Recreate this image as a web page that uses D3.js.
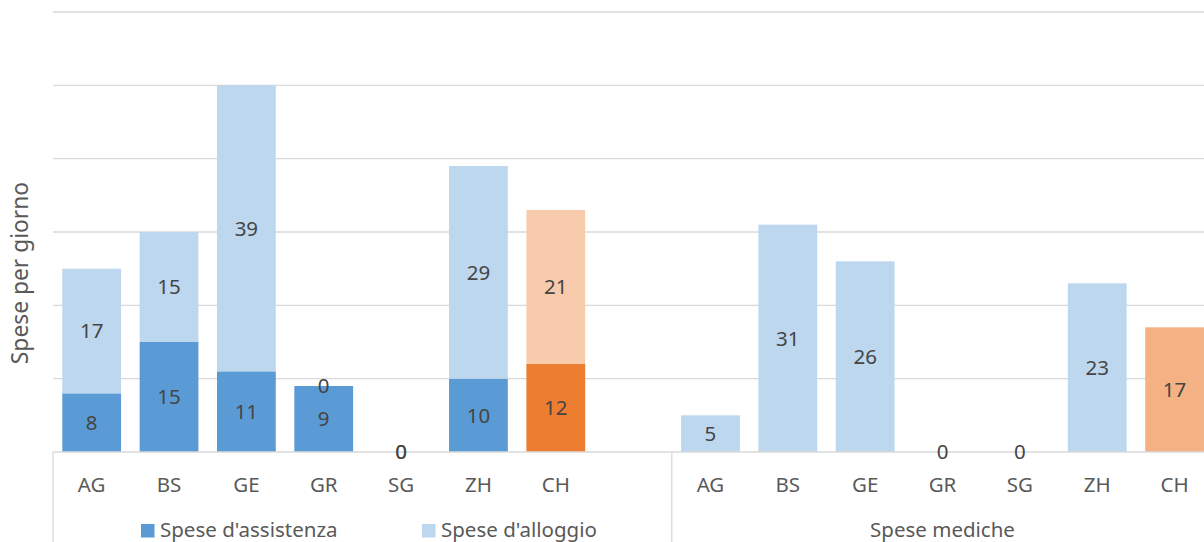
<!DOCTYPE html>
<html>
<head>
<meta charset="utf-8">
<script src="https://cdn.jsdelivr.net/npm/d3@7"></script>
<style>
  html, body { margin: 0; padding: 0; background: #fff; }
  svg { display: block; font-family: "Noto Sans", "Open Sans", sans-serif; }
</style>
</head>
<body>
<svg id="chart" width="1204" height="542"></svg>
<script>
const categories = ["AG", "BS", "GE", "GR", "SG", "ZH", "CH"];
const assistenza = [8, 15, 11, 9, 0, 10, 12];
const alloggio   = [17, 15, 39, 0, 0, 29, 21];
const mediche    = [5, 31, 26, 0, 0, 23, 17];
const yTicks = [0, 10, 20, 30, 40, 50, 60];
const seriesNames = ["Spese d'assistenza", "Spese d'alloggio"];
const groupLabel = "Spese mediche";
const yTitle = "Spese per giorno";

const svg = d3.select("#chart");
const left = 53, step = 77.35, nSlots = 15;
const baseY = 452, topY = 12;
const fontSize = 20.5;
const textCol = "#595959", labelCol = "#454545", gridCol = "#d9d9d9";

// slot keys: left group (7 cats + gap), right group (7 cats)
const slots = categories.map(c => "L-" + c).concat(["L-gap"]).concat(categories.map(c => "R-" + c));

const x = d3.scaleBand().domain(slots)
  .range([left, left + step * nSlots])
  .paddingInner(0.24).paddingOuter(0.12);
const y = d3.scaleLinear().domain([0, 60]).range([baseY, topY]);

// gridlines
svg.append("g").selectAll("line").data(yTicks.filter(t => t > 0)).join("line")
  .attr("x1", left).attr("x2", 1204)
  .attr("y1", d => y(d)).attr("y2", d => y(d))
  .attr("stroke", gridCol).attr("stroke-width", 1.3);

const isCH = c => c === "CH";
const colors = {
  assist: "#5b9bd5", assistCH: "#ed7d31",
  allog: "#bdd7ee", allogCH: "#f8cbad",
  med: "#bdd7ee", medCH: "#f4b183"
};

// left stacked bars
const leftData = categories.map((c, i) => ({ c, a: assistenza[i], b: alloggio[i] }));
const gL = svg.append("g");
gL.selectAll("rect.a").data(leftData).join("rect").attr("class", "a")
  .attr("x", d => x("L-" + d.c)).attr("width", x.bandwidth())
  .attr("y", d => y(d.a)).attr("height", d => y(0) - y(d.a))
  .attr("fill", d => isCH(d.c) ? colors.assistCH : colors.assist);
gL.selectAll("rect.b").data(leftData).join("rect").attr("class", "b")
  .attr("x", d => x("L-" + d.c)).attr("width", x.bandwidth())
  .attr("y", d => y(d.a + d.b)).attr("height", d => y(d.a) - y(d.a + d.b))
  .attr("fill", d => isCH(d.c) ? colors.allogCH : colors.allog);

// right bars
const rightData = categories.map((c, i) => ({ c, v: mediche[i] }));
const gR = svg.append("g");
gR.selectAll("rect").data(rightData).join("rect")
  .attr("x", d => x("R-" + d.c)).attr("width", x.bandwidth())
  .attr("y", d => y(d.v)).attr("height", d => y(0) - y(d.v))
  .attr("fill", d => isCH(d.c) ? colors.medCH : colors.med);

// baseline axis
svg.append("line").attr("x1", left).attr("x2", 1204)
  .attr("y1", baseY).attr("y2", baseY)
  .attr("stroke", gridCol).attr("stroke-width", 1.3);
// group separators
[left, x("L-gap") + x.bandwidth() + x.step() * 0.12].forEach(px => {
  svg.append("line").attr("x1", px).attr("x2", px)
    .attr("y1", baseY).attr("y2", 542)
    .attr("stroke", gridCol).attr("stroke-width", 1.3);
});

// data labels
function addLabels(data, xf, yf, tf) {
  svg.append("g").selectAll("text").data(data).join("text")
    .attr("x", xf).attr("y", yf).attr("dy", "0.35em")
    .attr("text-anchor", "middle").attr("font-size", fontSize).attr("fill", labelCol)
    .text(tf);
}
addLabels(leftData, d => x("L-" + d.c) + x.bandwidth() / 2, d => (y(0) + y(d.a)) / 2, d => d.a);
addLabels(leftData, d => x("L-" + d.c) + x.bandwidth() / 2, d => (y(d.a) + y(d.a + d.b)) / 2, d => d.b);
addLabels(rightData, d => x("R-" + d.c) + x.bandwidth() / 2, d => (y(0) + y(d.v)) / 2, d => d.v);

// category labels
svg.append("g").selectAll("text").data(slots.filter(s => s !== "L-gap")).join("text")
  .attr("x", d => x(d) + x.bandwidth() / 2).attr("y", 492)
  .attr("text-anchor", "middle").attr("font-size", fontSize).attr("fill", textCol)
  .text(d => d.slice(2));

// right group label
svg.append("text")
  .attr("x", (x("R-AG") + x("R-CH") + x.bandwidth()) / 2).attr("y", 537)
  .attr("text-anchor", "middle").attr("font-size", fontSize).attr("fill", textCol)
  .text(groupLabel);

// legend
const legPos = [141, 422];
const legCols = [colors.assist, colors.allog];
seriesNames.forEach((n, i) => {
  svg.append("rect").attr("x", legPos[i]).attr("y", 524).attr("width", 13.5).attr("height", 13.5)
    .attr("fill", legCols[i]);
  svg.append("text").attr("x", legPos[i] + 19).attr("y", 537)
    .attr("font-size", fontSize).attr("fill", textCol).text(n);
});

// y title
svg.append("text")
  .attr("transform", "translate(28,273) rotate(-90)")
  .attr("text-anchor", "middle").attr("font-size", 22.8).attr("fill", textCol)
  .text(yTitle);
</script>
</body>
</html>
